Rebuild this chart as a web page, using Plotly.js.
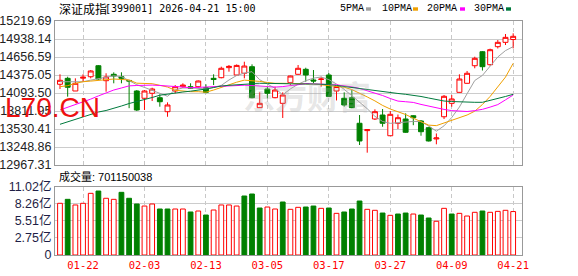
<!DOCTYPE html>
<html>
<head>
<meta charset="utf-8">
<script src="https://cdn.plot.ly/plotly-3.0.1.min.js"></script>
<style>html,body{margin:0;padding:0;background:#fff;}#chart{width:578px;height:276px;}</style>
</head>
<body>
<div id="chart"></div>
<script>
// ---------- data ----------
const dates = ["01-19","01-20","01-21","01-22","01-23","01-26","01-27","01-28","01-29","01-30",
  "02-02","02-03","02-04","02-05","02-06","02-09","02-10","02-11","02-12","02-13",
  "02-24","02-25","02-26","02-27","03-02","03-03","03-04","03-05","03-06","03-09",
  "03-10","03-11","03-12","03-13","03-16","03-17","03-18","03-19","03-20","03-23",
  "03-24","03-25","03-26","03-27","03-30","03-31","04-01","04-02","04-03","04-07",
  "04-08","04-09","04-10","04-13","04-14","04-15","04-16","04-17","04-20","04-21"];
const openP = [14230,14323,14125,14325,14348,14520,14286,14386,14348,14290,
  14125,14011,14089,14020,13801,14125,14192,14192,14192,14176,
  14323,14333,14490,14375,14402,14505,13864,14156,14020,13932,
  14255,14386,14464,14297,14305,14375,14125,14011,14020,13620,
  13505,13687,13749,13425,13620,13687,13738,13656,13551,13375,
  13722,13932,14104,14245,14520,14739,14536,14818,14886,14930];
const highP = [14386,14348,14323,14386,14453,14531,14402,14417,14417,14297,
  14140,14140,14176,14073,13947,14218,14245,14245,14290,14229,
  14386,14505,14531,14540,14583,14542,14104,14192,14192,14104,
  14365,14531,14489,14453,14348,14406,14200,14104,14140,13749,
  13525,13838,13843,13812,13757,13775,13745,13671,13566,13461,
  14062,14062,14386,14438,14661,14750,14787,14922,15016,15027];
const lowP = [14156,14036,14125,14270,14323,14300,14114,14245,14245,13856,
  13812,13828,13968,13879,13722,14089,14176,14156,14176,14089,
  14218,14323,14427,14370,14323,14010,13860,14011,14011,13703,
  14218,14380,14270,14245,14192,14030,13977,13880,13855,13280,
  13160,13671,13566,13420,13530,13470,13590,13425,13335,13291,
  13687,13879,14100,14240,14480,14445,14520,14790,14844,14792];
const closeP = [14292,14183,14245,14340,14438,14312,14344,14359,14323,14281,
  13828,14125,14156,13957,13906,14192,14218,14167,14281,14104,
  14305,14480,14510,14525,14515,14020,13932,14089,14140,14062,
  14359,14480,14375,14281,14312,14040,14195,13906,13864,13343,
  13520,13801,13620,13760,13707,13479,13707,13488,13343,13390,
  14042,14000,14312,14402,14636,14505,14771,14886,14964,14980];
// volume, unit: 亿
const volume = [8.34,8.98,8.07,8.34,9.95,10.32,9.15,8.98,10.11,9.15,
  8.23,7.90,8.23,7.42,7.42,7.42,7.42,6.94,7.10,6.45,
  7.26,8.07,8.07,7.90,9.52,9.84,7.58,7.74,7.42,8.55,
  7.37,7.69,7.74,7.90,7.53,7.58,6.72,6.94,7.42,8.71,
  7.37,7.21,6.77,6.40,6.61,6.77,6.61,6.45,5.97,5.44,
  7.53,6.61,6.72,6.29,6.89,7.10,6.89,7.04,7.21,7.01];
const ma5 = [14270,14270,14270,14270,14295,14319,14344,14362,14350,14281,
  14223,14181,14136,14090,14042,14144,14172,14173,14169,14158,
  14181,14212,14297,14367,14405,14427,14301,14237,14167,14065,
  14158,14231,14286,14325,14344,14303,14234,14151,14053,13951,
  13848,13729,13648,13619,13630,13643,13649,13646,13579,13496,
  13580,13710,13874,14082,14289,14369,14520,14657,14757,14818];
const ma10 = [14192,14208,14244,14270,14280,14291,14301,14312,14305,14298,
  14247,14245,14239,14214,14187,14136,14122,14114,14114,14106,
  14140,14183,14223,14262,14295,14287,14275,14258,14245,14245,
  14245,14245,14245,14234,14222,14209,14197,14183,14147,14095,
  14032,13970,13899,13843,13801,13757,13699,13640,13591,13583,
  13626,13670,13710,13749,13809,13914,14039,14183,14342,14558];
const ma20 = [13828,13868,13909,13948,13998,14048,14100,14140,14172,14205,
  14211,14215,14217,14211,14206,14200,14187,14176,14183,14190,
  14198,14205,14209,14215,14215,14211,14203,14192,14186,14194,
  14205,14223,14242,14240,14236,14226,14222,14208,14189,14165,
  14131,14098,14054,14007,13967,13957,13946,13915,13885,13860,
  13837,13818,13806,13804,13818,13838,13873,13912,13986,14062];
const ma30 = [13604,13643,13682,13723,13762,13796,13820,13851,13890,13929,
  13960,13984,14023,14059,14078,14097,14109,14122,14136,14156,
  14179,14203,14214,14223,14231,14239,14245,14244,14240,14237,
  14234,14234,14234,14234,14234,14226,14211,14195,14179,14159,
  14140,14125,14109,14098,14086,14073,14059,14039,14015,13992,
  13968,13960,13953,13948,13948,13948,13976,14007,14039,14073];
const priceTicks = [15219.69,14938.14,14656.59,14375.05,14093.50,13811.95,13530.41,13248.86,12967.31];
const volTickLabels = ["0","2.75亿","5.51亿","8.26亿","11.02亿"];
const volMax = 11.02;
const xTickLabels = ["01-22","02-03","02-13","03-05","03-17","03-27","04-09","04-21"];
const titleName = "深证成指";
const titleRest = "[399001] 2026-04-21 15:00";
const maNames = ["5PMA","10PMA","20PMA","30PMA"];
const volLabel = "成交量: 701150038";

// ---------- style ----------
const RED = "#ff0000", GREEN = "#008000";
const maColors = ["#a0a0a0","#f0a000","#ff00ff","#007a3d"];
const W = 578, H = 276, ML = 55, MR = 56, MT = 21, MB = 21;
const PW = W - ML - MR, PH = H - MT - MB;
const px = x => (x - ML) / PW;
const py = y => (H - MB - y) / PH;

const volUp = closeP.map((c, i) => i === 0 ? c >= openP[0] : c >= closeP[i - 1]);

const traces = [
  {type: "candlestick", x: dates, open: openP, high: highP, low: lowP, close: closeP,
   xaxis: "x", yaxis: "y", whiskerwidth: 0, hoverinfo: "skip",
   increasing: {line: {color: RED, width: 1}, fillcolor: "#ffffff"},
   decreasing: {line: {color: GREEN, width: 1}, fillcolor: GREEN}},
  {type: "scatter", mode: "lines", x: dates, y: ma5, line: {color: maColors[0], width: 1}, hoverinfo: "skip"},
  {type: "scatter", mode: "lines", x: dates, y: ma10, line: {color: maColors[1], width: 1}, hoverinfo: "skip"},
  {type: "scatter", mode: "lines", x: dates, y: ma20, line: {color: maColors[2], width: 1}, hoverinfo: "skip"},
  {type: "scatter", mode: "lines", x: dates, y: ma30, line: {color: maColors[3], width: 1}, hoverinfo: "skip"},
  {type: "bar", x: dates, y: volume, xaxis: "x2", yaxis: "y2", width: 0.62, hoverinfo: "skip",
   marker: {color: volUp.map(u => u ? "#ffffff" : GREEN),
            line: {color: volUp.map(u => u ? RED : GREEN), width: 1}}}
];

const xr = [-0.65, 60.15];
const gridX = {showgrid: true, gridcolor: "#c8c8c8", griddash: "4px,3px", gridwidth: 1};
const layout = {
  width: W, height: H, margin: {l: ML, r: MR, t: MT, b: MB, pad: 0},
  paper_bgcolor: "#ffffff", plot_bgcolor: "#ffffff", showlegend: false,
  boxgap: 0.2, boxgroupgap: 0.2, bargap: 0.3,
  xaxis: Object.assign({domain: [0, 1], anchor: "y", type: "category", range: xr,
    tickmode: "array", tickvals: xTickLabels, showticklabels: false, ticks: "",
    showline: true, linecolor: "#999", linewidth: 1, mirror: true, zeroline: false,
    rangeslider: {visible: false}, fixedrange: true}, gridX),
  yaxis: {domain: [py(165), 1], anchor: "x", range: [priceTicks[8], priceTicks[0]],
    tickmode: "array", tickvals: priceTicks, ticktext: priceTicks.map(v => v.toFixed(2)),
    tickfont: {family: "Liberation Sans, Arial", size: 12.5, color: "#222"}, ticks: "",
    showgrid: true, gridcolor: "#cccccc", gridwidth: 1, showline: true, linecolor: "#999",
    linewidth: 1, mirror: true, zeroline: false, fixedrange: true},
  xaxis2: Object.assign({domain: [0, 1], anchor: "y2", type: "category", range: xr,
    tickmode: "array", tickvals: xTickLabels, ticks: "",
    tickfont: {family: "DejaVu Sans Mono, monospace", size: 10.5, color: RED},
    showline: true, linecolor: "#999", linewidth: 1, mirror: true, zeroline: false, fixedrange: true}, gridX),
  yaxis2: {domain: [0, py(186.7)], anchor: "x2", range: [0, volMax],
    tickmode: "array", tickvals: volTickLabels.map((t, i) => i * volMax / 4), ticktext: volTickLabels,
    tickfont: {family: "Liberation Sans, Noto Sans CJK SC", size: 12.5, color: "#1e1e46"}, ticks: "",
    showgrid: true, gridcolor: "#cccccc", gridwidth: 1, showline: true, linecolor: "#999",
    linewidth: 1, mirror: true, zeroline: false, fixedrange: true},
  annotations: [
    {xref: "paper", yref: "paper", x: px(57), y: py(9), xanchor: "left", yanchor: "middle",
     text: titleName, showarrow: false, font: {family: "Noto Sans CJK SC", size: 12, color: "#000"}},
    {xref: "paper", yref: "paper", x: px(103), y: py(9), xanchor: "left", yanchor: "middle",
     text: titleRest, showarrow: false, font: {family: "DejaVu Sans Mono, monospace", size: 10, color: "#000"}},
    {xref: "paper", yref: "paper", x: px(57), y: py(176), xanchor: "left", yanchor: "middle",
     text: volLabel, showarrow: false, font: {family: "Liberation Sans, Noto Sans CJK SC", size: 11, color: "#000"}},
    {xref: "paper", yref: "paper", x: px(307), y: py(95), xanchor: "center", yanchor: "middle",
     text: "东方财富", showarrow: false,
     font: {family: "Noto Sans CJK SC", size: 32, color: "rgba(170,170,170,0.3)", weight: 700}},
    {xref: "paper", yref: "paper", x: px(52), y: py(107), xanchor: "center", yanchor: "middle",
     text: "L70.CN", showarrow: false, font: {family: "Liberation Sans, Arial", size: 28, color: "#ee1111"}}
  ],
  shapes: []
};
const legX = [338, 380, 425, 472], sqX = [366, 413, 460, 506];
maNames.forEach((n, i) => {
  layout.annotations.push({xref: "paper", yref: "paper", x: px(legX[i]), y: py(9), xanchor: "left",
    yanchor: "middle", text: n, showarrow: false,
    font: {family: "Liberation Mono, monospace", size: 10, color: "#000"}});
  layout.shapes.push({type: "rect", xref: "paper", yref: "paper", x0: px(sqX[i]), x1: px(sqX[i] + 5),
    y0: py(7.3), y1: py(10.7), fillcolor: maColors[i], line: {width: 0}});
});

Plotly.newPlot("chart", traces, layout, {staticPlot: true, displayModeBar: false});
</script>
</body>
</html>
